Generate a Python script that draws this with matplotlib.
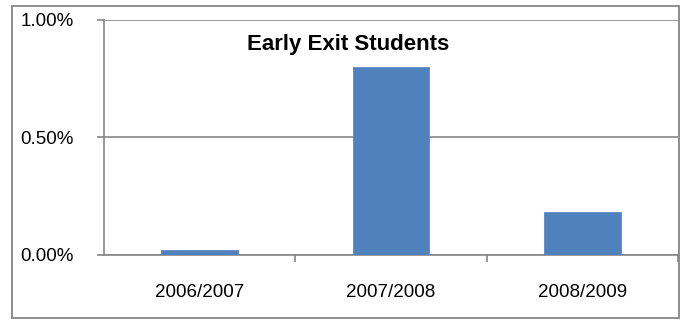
import matplotlib
matplotlib.use("Agg")
import matplotlib.pyplot as plt
from matplotlib.patches import Rectangle
from matplotlib.ticker import FuncFormatter, FixedLocator

# Share of students leaving early, in percent
years = ["2006/2007", "2007/2008", "2008/2009"]
exit_rate = [0.02, 0.80, 0.18]
yticks = [0.0, 0.5, 1.0]

plt.rcParams["font.family"] = ["Liberation Sans", "DejaVu Sans"]
grey = "#868686"

fig = plt.figure(figsize=(6.86, 3.2), dpi=100)
ax = fig.add_axes([104 / 686, 1 - 254.5 / 320, (678 - 104) / 686, (254.5 - 19.5) / 320])

xpos = list(range(len(years)))
ax.bar(xpos, exit_rate, width=0.4, color="#4F81BD", edgecolor="#5B8AC3", linewidth=0.6, zorder=3)

ax.set_xlim(-0.5, len(years) - 0.5)
ax.set_ylim(0, 1.0)
ax.set_yticks(yticks)
ax.yaxis.set_major_formatter(FuncFormatter(lambda v, p: "%.2f%%" % v))
ax.grid(axis="y", color=grey, linewidth=1.2, zorder=0)

# category labels centred, tick marks on the category boundaries
ax.set_xticks(xpos)
ax.set_xticklabels(years)
ax.xaxis.set_minor_locator(FixedLocator([i + 0.5 for i in range(len(years))]))
ax.tick_params(axis="x", which="major", length=0, pad=21, labelsize=13.5)
ax.tick_params(axis="x", which="minor", length=5, width=1.2, color=grey)
ax.tick_params(axis="y", length=5, width=1.2, color=grey, pad=17, labelsize=13.5)

for side in ("top", "right"):
    ax.spines[side].set_visible(False)
for side in ("left", "bottom"):
    ax.spines[side].set_color(grey)
    ax.spines[side].set_linewidth(1.2)

ax.text(0.425, 0.895, "Early Exit Students", transform=ax.transAxes, ha="center", va="center",
        fontsize=16, fontweight="bold")

# chart frame
fig.patches.append(Rectangle((12 / 686, 1 - 318 / 320), (679 - 12) / 686, (318 - 6) / 320,
                             transform=fig.transFigure, fill=False, edgecolor=grey, linewidth=1.3))

fig.savefig("out.png", dpi=100)
